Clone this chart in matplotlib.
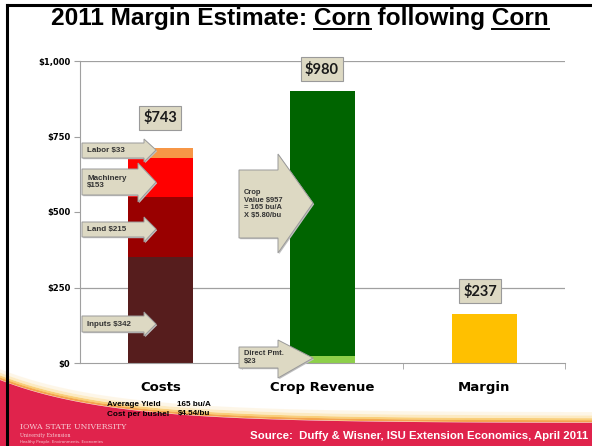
import matplotlib
matplotlib.use("Agg")
import matplotlib.pyplot as plt
from matplotlib.patches import Polygon
import numpy as np

W, H = 592, 446

# data (bar heights) and the printed labels
categories = ["Costs", "Crop Revenue", "Margin"]
cost_parts = ["Inputs", "Land", "Machinery", "Labor"]
cost_values = [350, 201, 129, 33]
cost_colors = ["#561D1D", "#990000", "#FF0000", "#F79646"]
revenue_parts = ["Direct Pmt.", "Crop Value"]
revenue_values = [23, 878]
revenue_colors = ["#8DD04A", "#006400"]
margin_value = 162
margin_color = "#FFC000"
total_labels = ["$743", "$980", "$237"]
yticks = [0, 250, 500, 750, 1000]
ytick_labels = ["$0", "$250", "$500", "$750", "$1,000"]

beige = "#DDD9C3"
edge = "#9A9A9A"


def px(x, y):
    return (x / W, 1 - y / H)


fig = plt.figure(figsize=(W / 100, H / 100), dpi=100)

# ---- banner at the bottom
xs = np.linspace(0, W, 80)
top = 380 + 43 * (1 - np.exp(-xs / 110))
red_pts = [px(x, y) for x, y in zip(xs, top)] + [px(W, H), px(0, H)]
fig.patches.append(Polygon(red_pts, closed=True, transform=fig.transFigure,
                           facecolor="#E0234C", edgecolor="none", zorder=0))
for off, col, a, lw in [(-1.5, "#F39A3C", 0.9, 1.6), (-3.5, "#F8C35A", 0.8, 1.6),
                        (-6, "#FBDD9A", 0.6, 2.0), (-9, "#FDEFD2", 0.5, 2.5)]:
    fade = np.clip(1 - xs / 700, 0.3, 1)
    for i in range(len(xs) - 1):
        pass
    ln = plt.Line2D(xs / W, 1 - (top + off) / H, transform=fig.transFigure,
                    color=col, lw=lw, alpha=a, zorder=0)
    fig.lines.append(ln)

fig.text(*px(20, 427), "IOWA STATE UNIVERSITY", fontsize=5.6, family="DejaVu Serif",
         color="#F6C9D2", va="center")
fig.text(*px(20, 435), "University Extension", fontsize=3.4, family="DejaVu Serif",
         color="#F6C9D2", va="center")
fig.text(*px(20, 442), "Healthy People. Environments. Economies", fontsize=2.8,
         family="DejaVu Sans", color="#F6C9D2", va="center")
fig.text(*px(588, 436), "Source:  Duffy & Wisner, ISU Extension Economics, April 2011",
         fontsize=8.2, fontweight="bold", family="Liberation Sans", color="white",
         ha="right", va="center")

# frame lines
fig.lines.append(plt.Line2D([7 / W, 1], [1 - 5 / H] * 2, transform=fig.transFigure,
                            color="black", lw=2.2))
fig.lines.append(plt.Line2D([7 / W] * 2, [0, 1 - 5 / H], transform=fig.transFigure,
                            color="black", lw=2.2))

# ---- title with underlined words
title = "2011 Margin Estimate: Corn following Corn"
TFS = 17.6
tx, ty = px(300, 19)
t = fig.text(tx, ty, title, fontsize=TFS, fontweight="bold", family="Liberation Sans",
             ha="center", va="center")
renderer = fig.canvas.get_renderer()
bb = t.get_window_extent(renderer)


def text_width(s):
    tmp = fig.text(0, 0, s, fontsize=TFS, fontweight="bold", family="Liberation Sans")
    w = tmp.get_window_extent(renderer).width
    tmp.remove()
    return w


for prefix in ["2011 Margin Estimate: Corn", title]:
    end = bb.x0 + text_width(prefix)
    start = end - text_width("Corn")
    yline = bb.y0 + 1.5
    fig.lines.append(plt.Line2D([start / fig.bbox.width, end / fig.bbox.width],
                                [yline / fig.bbox.height] * 2,
                                transform=fig.transFigure, color="black", lw=1.4))

# ---- main chart
x0, x1, ytop, ybot = 80, 565, 61, 363
ax = fig.add_axes([x0 / W, 1 - ybot / H, (x1 - x0) / W, (ybot - ytop) / H])
ax.patch.set_alpha(0)
ax.set_xlim(-0.5, 2.5)
ax.set_ylim(0, 1000)
pos = np.arange(len(categories))
bw = 0.4

bottom = 0
for v, c in zip(cost_values, cost_colors):
    ax.bar(pos[0], v, bw, bottom=bottom, color=c, zorder=2)
    bottom += v
bottom = 0
for v, c in zip(revenue_values, revenue_colors):
    ax.bar(pos[1], v, bw, bottom=bottom, color=c, zorder=2)
    bottom += v
ax.bar(pos[2], margin_value, bw, color=margin_color, zorder=2)

for yv in [250, 1000]:
    ax.axhline(yv, color="#A0A0A0", lw=0.9, zorder=1)

for s in ["top", "right"]:
    ax.spines[s].set_visible(False)
for s in ["left", "bottom"]:
    ax.spines[s].set_color("#A0A0A0")
ax.set_yticks(yticks)
ax.set_yticklabels(ytick_labels, fontsize=6, fontweight="heavy", family="DejaVu Sans")
ax.tick_params(axis="y", length=4, color="#A0A0A0", pad=3)
ax.set_xticks([0.5, 1.5, 2.5], minor=True)
ax.tick_params(axis="x", which="minor", length=4, color="#A0A0A0")
ax.set_xticks(pos)
ax.set_xticklabels(categories, fontsize=9.5, fontweight="heavy", family="DejaVu Sans")
ax.tick_params(axis="x", which="major", length=0, pad=13)

# total labels in boxes
label_xy = [(160, 118), (322, 69), (480, 291)]
for lab, (xx, yy) in zip(total_labels, label_xy):
    fig.text(*px(xx, yy), lab, fontsize=10.5, fontweight="bold", family="Lato",
             ha="center", va="center", color="#1A1A1A",
             bbox=dict(boxstyle="square,pad=0.3", facecolor=beige, edgecolor=edge, lw=0.8))


# ---- callout arrows (pixel layout)
def callout(bx0, by0, by1, hx, hy0, hy1, tipx, tipy, text, fs=5.8):
    pts = [(bx0, by0), (hx, by0), (hx, hy0), (tipx, tipy), (hx, hy1), (hx, by1), (bx0, by1)]
    shadow = [px(x + 1.2, y + 1.2) for x, y in pts]
    fig.patches.append(Polygon(shadow, closed=True, transform=fig.transFigure,
                               facecolor="#BFBFBF", edgecolor="none", zorder=3))
    fig.patches.append(Polygon([px(x, y) for x, y in pts], closed=True,
                               transform=fig.transFigure, facecolor=beige,
                               edgecolor=edge, lw=0.7, zorder=4))
    fig.text(*px(bx0 + 5, (by0 + by1) / 2), text, fontsize=fs, fontweight="bold",
             family="Liberation Sans", color="#333333", va="center", ha="left",
             linespacing=1.15, zorder=5)


callout(82, 143, 158, 144, 139, 162, 156, 150, "Labor $33")
callout(82, 169, 195, 138, 163, 202, 156, 182, "Machinery\n$153")
callout(82, 222, 237, 144, 217, 242, 156, 229, "Land $215")
callout(82, 316, 332, 144, 312, 336, 156, 324, "Inputs $342")
callout(239, 170, 238, 278, 154, 253, 313, 203, "Crop\nValue $957\n= 165 bu/A\nX $5.80/bu", fs=5.4)
callout(239, 347, 368, 278, 340, 378, 313, 358, "Direct Pmt.\n$23", fs=5.4)

for txt, xx, yy in [("Average Yield", 107, 405), ("165 bu/A", 177, 405),
                    ("Cost per bushel", 107, 414), ("$4.54/bu", 178, 414)]:
    fig.text(*px(xx, yy), txt, fontsize=5.9, fontweight="bold",
             family="Liberation Sans", va="center")

fig.savefig("out.png", dpi=100)
